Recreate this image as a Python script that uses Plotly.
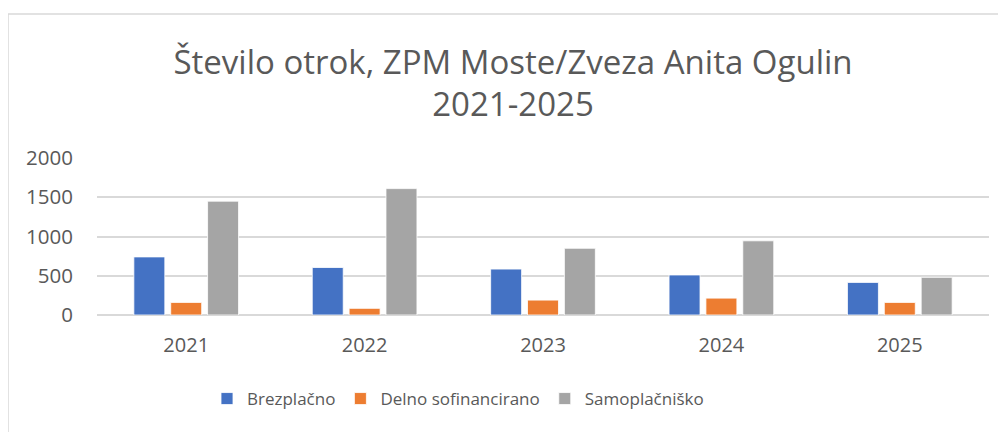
import plotly.graph_objects as go

years = ["2021", "2022", "2023", "2024", "2025"]
brezplacno = [740, 605, 585, 510, 415]
delno = [160, 85, 190, 215, 160]
samoplacnisko = [1450, 1610, 850, 945, 480]
series_names = ["Brezplačno", "Delno sofinancirano", "Samoplačniško"]
colors = ["#4472C4", "#ED7D31", "#A5A5A5"]

OFF = 8  # page body margin
W, H = 1006 - OFF, 432 - OFF
L, R, T, B = 97 - OFF, 17, 158 - OFF, 117
pw, ph = W - L - R, H - T - B

def px_x(x):
    return (x - OFF - L) / pw

def px_y(y):
    return (H - B - (y - OFF)) / ph

fig = go.Figure()
for name, vals, c in zip(series_names, [brezplacno, delno, samoplacnisko], colors):
    fig.add_trace(go.Bar(x=years, y=vals, name=name, marker=dict(color=c, line=dict(color="white", width=0.8))))

font_family = "Open Sans, sans-serif"
fig.update_layout(
    width=W, height=H,
    margin=dict(l=L, r=R, t=T, b=B, autoexpand=False),
    paper_bgcolor="white", plot_bgcolor="white",
    barmode="group", bargap=0.38, bargroupgap=0.16,
    title=dict(
        text="Število otrok, ZPM Moste/Zveza Anita Ogulin<br>2021-2025",
        x=px_x(513), xref="paper", xanchor="center",
        y=1 - 65.5 / H, yref="container", yanchor="middle",
        font=dict(family=font_family, size=33, color="#595959"),
    ),
    font=dict(family=font_family, size=20, color="#595959"),
    xaxis=dict(showgrid=False, showline=False, ticks="", ticklabelstandoff=16, automargin=False,
               tickfont=dict(size=20, color="#595959")),
    yaxis=dict(range=[0, 2000], dtick=500, showgrid=True, gridcolor="#D9D9D9", gridwidth=1.5,
               zeroline=True, zerolinecolor="#D9D9D9", zerolinewidth=1.5, automargin=False,
               showline=False, ticks="", ticklabelstandoff=23,
               tickfont=dict(size=20.5, color="#595959")),
    legend=dict(orientation="h", x=px_x(458), xanchor="center", y=px_y(399), yanchor="middle",
                font=dict(size=17, color="#595959"), itemwidth=30, traceorder="normal"),
    showlegend=True,
    shapes=[dict(type="rect", xref="paper", yref="paper",
                 x0=px_x(8), x1=px_x(1000), y0=px_y(445), y1=px_y(14),
                 line=dict(color="#D9D9D9", width=1.5), fillcolor="rgba(0,0,0,0)", layer="below")],
)

fig.write_html("out.html")
